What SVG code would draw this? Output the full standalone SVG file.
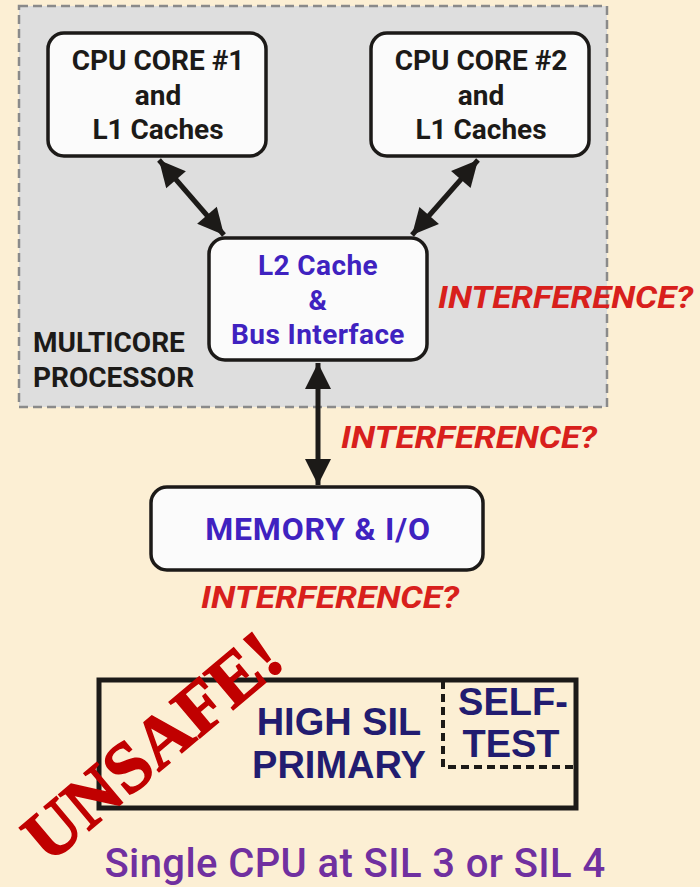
<svg xmlns="http://www.w3.org/2000/svg" width="700" height="887" viewBox="0 0 700 887">
<defs>
<marker id="ah" viewBox="0 0 10 10" refX="10" refY="5" markerWidth="7" markerHeight="5.2" orient="auto-start-reverse" markerUnits="strokeWidth">
<path d="M0,0 L10,5 L0,10 Z" fill="#1c1a18"/>
</marker>
<style>
.node{fill:#fbfbfb;stroke:#1c1a18;stroke-width:3.5}
.bk{font-family:Roboto,"Liberation Sans",sans-serif;font-weight:bold;font-size:28px;fill:#1c1a18;text-anchor:middle}
.bl{font-family:Roboto,"Liberation Sans",sans-serif;font-weight:bold;font-size:28px;letter-spacing:0.4px;fill:#3f22c0;text-anchor:middle}
.int{font-family:Roboto,"Liberation Sans",sans-serif;font-weight:bold;font-style:italic;font-size:32px;fill:#d8201c}
.conn{stroke:#1c1a18;stroke-width:5;fill:none}
.sil{font-family:"Liberation Sans",Arial,sans-serif;font-weight:bold;font-size:38px;fill:#221c70;text-anchor:middle}
</style>
</defs>
<rect width="700" height="887" fill="#fcefd4"/>
<g id="multicore">
<rect x="19" y="6" width="588" height="401" fill="#dedede" stroke="#8a8a8a" stroke-width="2.5" stroke-dasharray="9,5"/>
<text class="bk" x="33" y="352" style="text-anchor:start">MULTICORE</text>
<text class="bk" x="33" y="387" style="text-anchor:start">PROCESSOR</text>
</g>
<g id="cpu1">
<rect class="node" x="48" y="33" width="218" height="123" rx="16"/>
<text class="bk" x="158" y="70">CPU CORE #1</text>
<text class="bk" x="158" y="105">and</text>
<text class="bk" x="158" y="139">L1 Caches</text>
</g>
<g id="cpu2">
<rect class="node" x="371" y="33" width="218" height="123" rx="16"/>
<text class="bk" x="481" y="70">CPU CORE #2</text>
<text class="bk" x="481" y="105">and</text>
<text class="bk" x="481" y="139">L1 Caches</text>
</g>
<g id="l2">
<rect class="node" x="209" y="238" width="218" height="122" rx="16"/>
<text class="bl" x="318" y="275">L2 Cache</text>
<text class="bl" x="318" y="310">&amp;</text>
<text class="bl" x="318" y="344">Bus Interface</text>
</g>
<g id="memory">
<rect class="node" x="151" y="487" width="332" height="83" rx="16"/>
<text class="bl" x="318" y="540" style="font-size:32px;letter-spacing:0.8px">MEMORY &amp; I/O</text>
</g>
<g id="connectors">
<line class="conn" x1="159" y1="160" x2="224" y2="235" marker-start="url(#ah)" marker-end="url(#ah)"/>
<line class="conn" x1="478" y1="160" x2="412" y2="235" marker-start="url(#ah)" marker-end="url(#ah)"/>
<line class="conn" x1="318" y1="363" x2="318" y2="485" marker-start="url(#ah)" marker-end="url(#ah)"/>
</g>
<g id="labels">
<text class="int" x="438" y="308" textLength="255" lengthAdjust="spacingAndGlyphs">INTERFERENCE?</text>
<text class="int" x="341" y="448" textLength="256" lengthAdjust="spacingAndGlyphs">INTERFERENCE?</text>
<text class="int" x="201" y="608" textLength="258" lengthAdjust="spacingAndGlyphs">INTERFERENCE?</text>
</g>
<g id="single-cpu">
<rect x="99" y="680" width="477" height="128" fill="none" stroke="#1c1a18" stroke-width="5"/>
<path d="M443,681 V767 H576" fill="none" stroke="#1c1a18" stroke-width="4" stroke-dasharray="8,5"/>
<text class="sil" x="339" y="735">HIGH SIL</text>
<text class="sil" x="339" y="778">PRIMARY</text>
<text class="sil" x="513" y="715">SELF-</text>
<text class="sil" x="511" y="757">TEST</text>
</g>
<text x="153" y="770" transform="rotate(-40 153 747)" font-family="'Liberation Serif',serif" font-weight="bold" font-size="72" fill="#c00000" stroke="#c00000" stroke-width="1.5" text-anchor="middle">UNSAFE!</text>
<text x="355" y="877" font-family="Roboto,'Liberation Sans',sans-serif" font-weight="500" font-size="40" letter-spacing="0.4" fill="#7030a0" text-anchor="middle">Single CPU at SIL 3 or SIL 4</text>
</svg>
